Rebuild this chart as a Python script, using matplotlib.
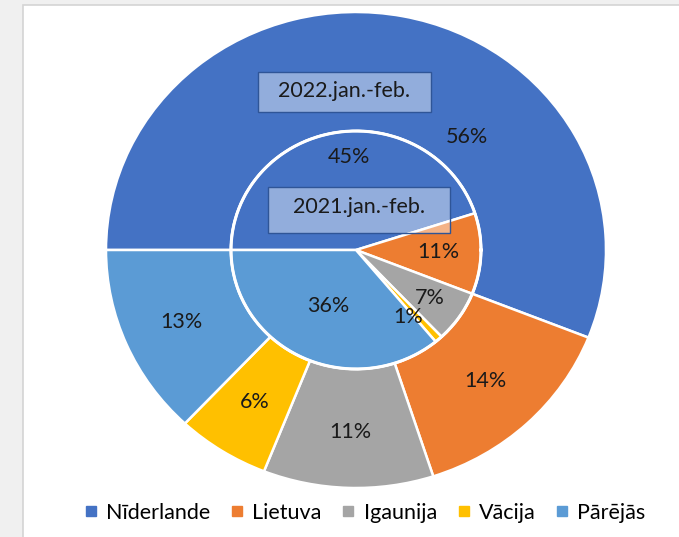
import numpy as np
import matplotlib
matplotlib.use("Agg")
import matplotlib.pyplot as plt
from matplotlib.patches import Rectangle
from matplotlib.lines import Line2D

categories = ["Nīderlande", "Lietuva", "Igaunija", "Vācija", "Pārējās"]
values_2022 = [56, 14, 11, 6, 13]
values_2021 = [45, 11, 7, 1, 36]
ring_names = ["2022.jan.-feb.", "2021.jan.-feb."]

colors = ["#4472C4", "#ED7D31", "#A5A5A5", "#FFC000", "#5B9BD5"]
FONT = "Lato"
FS = 15.5

W, H = 679, 537
fig = plt.figure(figsize=(W / 100, H / 100), dpi=100)
fig.patch.set_facecolor("#F0F0F0")
panel = Rectangle((23 / W, -0.01), 1 - 23 / W + 0.01, (H - 5) / H + 0.01,
                  transform=fig.transFigure, facecolor="white",
                  edgecolor="#D4D4D4", lw=1.2, zorder=-5)
fig.add_artist(panel)

cx, cy, rx, ry = 356, 250, 250, 238
ax = fig.add_axes([(cx - rx) / W, (H - cy - ry) / H, 2 * rx / W, 2 * ry / H])
ax.set_facecolor("none")
ax.set_zorder(2)

ax.pie(values_2022, colors=colors, startangle=180, counterclock=False,
       radius=1.0, wedgeprops=dict(width=0.5, edgecolor="white", linewidth=1.8))
ax.pie(values_2021, colors=colors, startangle=180, counterclock=False,
       radius=0.5, wedgeprops=dict(edgecolor="white", linewidth=1.8))
th = np.linspace(0, 2 * np.pi, 400)
ax.plot(0.5 * np.cos(th), 0.5 * np.sin(th), color="white", lw=2.2, zorder=5)

ax.set_aspect("auto")
ax.set_xlim(-1, 1)
ax.set_ylim(-1, 1)
ax.axis("off")


def mid_angles(vals):
    c = np.cumsum([0] + list(vals[:-1]))
    return [180 - 3.6 * (a + v / 2) for a, v in zip(c, vals)]


outer_r = [None, 0.755, 0.765, 0.758, 0.76]
for i, (v, a) in enumerate(zip(values_2022, mid_angles(values_2022))):
    if outer_r[i] is None:
        x, y = 0.444, 0.475
    else:
        x, y = outer_r[i] * np.cos(np.radians(a)), outer_r[i] * np.sin(np.radians(a))
    ax.text(x, y, f"{v}%", ha="center", va="center", fontsize=FS, family=FONT,
            color="#1a1a1a", zorder=10)

inner_r = [0.39, 0.33, 0.357, 0.35, 0.26]
inner_da = [-5, 0, 0, -5, 0]
for i, (v, a) in enumerate(zip(values_2021, mid_angles(values_2021))):
    a = a + inner_da[i]
    x, y = inner_r[i] * np.cos(np.radians(a)), inner_r[i] * np.sin(np.radians(a))
    ax.text(x, y, f"{v}%", ha="center", va="center", fontsize=FS, family=FONT,
            color="#1a1a1a", zorder=10)

# series name boxes
boxes = [((-0.393, 0.578), 0.692, 0.171, (-0.048, 0.67)),
         ((-0.353, 0.070), 0.729, 0.193, (0.012, 0.18))]
for name, (xy, w, h, tp) in zip(ring_names, boxes):
    ax.add_patch(Rectangle(xy, w, h, facecolor=(1, 1, 1, 0.42),
                           edgecolor="#2F5597", lw=1.0, zorder=8))
    ax.text(tp[0], tp[1], name, ha="center", va="center", fontsize=FS,
            family=FONT, color="#1a1a1a", zorder=10)

handles = [Line2D([], [], marker="s", linestyle="none", markersize=7,
                  markerfacecolor=c, markeredgecolor=c) for c in colors]
fig.legend(handles, categories, loc="center", bbox_to_anchor=(364 / W, 1 - 513 / H),
           ncol=5, frameon=False, prop=dict(family=FONT, size=FS),
           handletextpad=0.3, columnspacing=0.85, handlelength=0.8)

fig.savefig("out.png", dpi=100, facecolor=fig.get_facecolor())
